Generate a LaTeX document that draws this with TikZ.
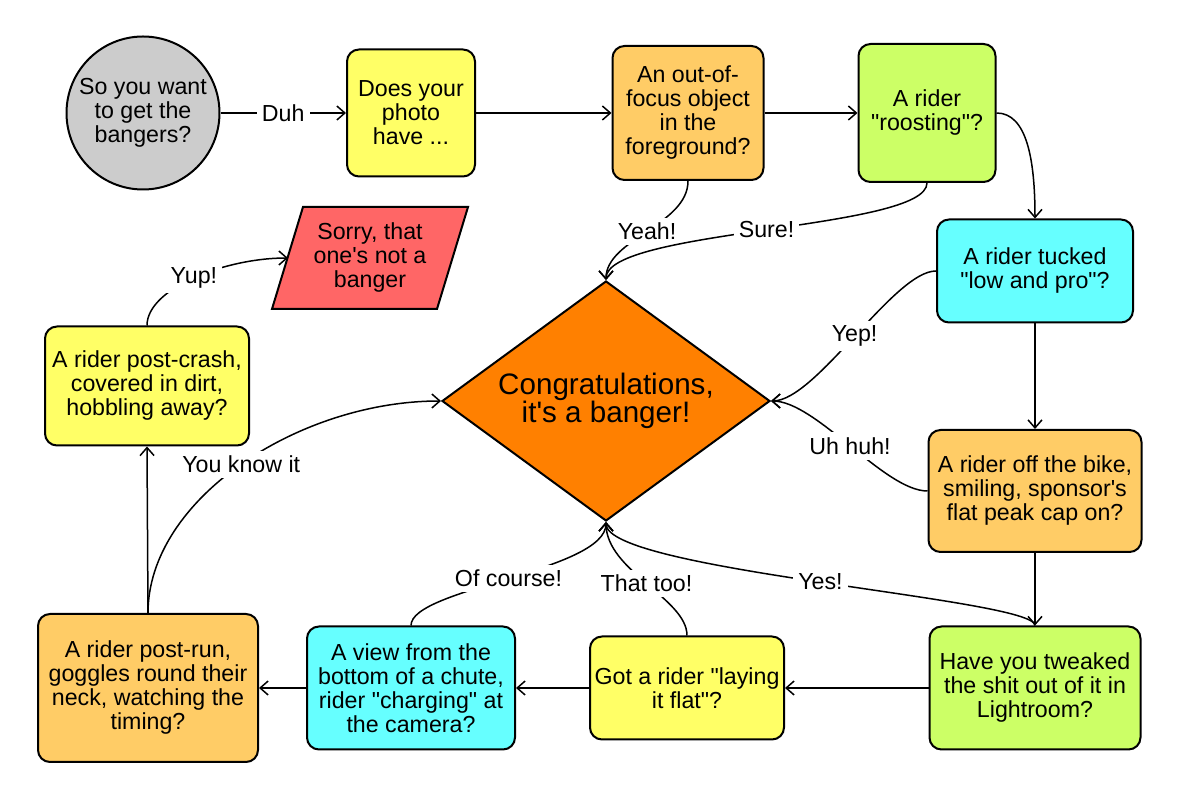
\documentclass[tikz,border=0pt]{standalone}
\usepackage{fontspec}
\setmainfont{Liberation Sans}
\usetikzlibrary{arrows.meta,shapes.geometric}
\definecolor{cgray}{HTML}{CCCCCC}
\definecolor{cyel}{HTML}{FFFF66}
\definecolor{corg}{HTML}{FFCC66}
\definecolor{cgrn}{HTML}{CCFF66}
\definecolor{ccya}{HTML}{66FFFF}
\definecolor{cred}{HTML}{FF6666}
\definecolor{cdia}{HTML}{FF8000}
\newcommand\boxfont{\fontsize{11.6}{12}\selectfont}
\newcommand\bigfont{\fontsize{14.8}{14}\selectfont}
\newcommand\dq{\XeTeXglyph\the\XeTeXcharglyph"22\relax}
\newcommand\sq{\XeTeXglyph\the\XeTeXcharglyph"27\relax}
\begin{document}
\begin{tikzpicture}[x=0.5pt,y=-0.5pt,
  qbox/.style={draw, line width=1pt, rounded corners=6pt, align=center, font=\boxfont, inner sep=0pt},
  arr/.style={-{Straight Barb[length=4pt,width=7pt]}, line width=0.75pt},
  lbl/.style={fill=white, font=\boxfont, inner sep=2.5pt},
  txt/.style={align=center, font=\boxfont, inner sep=0pt}]
\useasboundingbox (0,0) rectangle (1179,801);
% nodes
\node[draw, circle, fill=cgray, minimum size=76.5pt, inner sep=0pt, line width=1pt, align=center, font=\boxfont] (start) at (143,113) {So you want\\to get the\\bangers?};
\node[qbox, fill=cyel, minimum width=64pt, minimum height=63.5pt] (b2) at (411,113) {Does your\\photo\\have ...};
\node[qbox, fill=corg, minimum width=75.5pt, minimum height=67pt] (b3) at (688,113) {An out-of-\\focus object\\in the\\foreground?};
\node[qbox, fill=cgrn, minimum width=68.5pt, minimum height=69pt] (b4) at (927,113) {A rider\\\dq roosting\dq?};
\node[qbox, fill=ccya, minimum width=98pt, minimum height=51.5pt] (b5) at (1035,271) {A rider tucked\\\dq low and pro\dq?};
\node[qbox, fill=corg, minimum width=106.5pt, minimum height=61pt] (b6) at (1035,491) {A rider off the bike,\\smiling, sponsor\sq s\\flat peak cap on?};
\node[qbox, fill=cgrn, minimum width=105.5pt, minimum height=61.5pt] (b7) at (1035,688) {Have you tweaked\\the shit out of it in\\Lightroom?};
\node[qbox, fill=cyel, minimum width=97pt, minimum height=51.5pt] (b8) at (687,688) {Got a rider \dq laying\\it flat\dq?};
\node[qbox, fill=ccya, minimum width=104pt, minimum height=61.5pt] (b9) at (411,688) {A view from the\\bottom of a chute,\\rider \dq charging\dq{} at\\the camera?};
\node[qbox, fill=corg, minimum width=110pt, minimum height=74pt] (b10) at (148,688) {A rider post-run,\\goggles round their\\neck, watching the\\timing?};
\node[qbox, fill=cyel, minimum width=102pt, minimum height=59.5pt] (b11) at (147,386) {A rider post-crash,\\covered in dirt,\\hobbling away?};
% parallelogram
\draw[line width=1pt, fill=cred] (272,309) -- (303,207) -- (468,207) -- (437,309) -- cycle;
\node[txt] (sorry) at (370,258) {Sorry, that\\one\sq s not a\\banger};
\coordinate (sorryw) at (288,258);
% diamond
\node[draw, diamond, fill=cdia, line width=1pt, minimum width=164pt, minimum height=120pt, inner sep=0pt] (dia) at (606,401) {};
\node[align=center, font=\bigfont, inner sep=0pt] (congtext) at (dia) {Congratulations,\\it\sq s a banger!};
% connectors
\draw[arr] (start.east) -- node[lbl]{Duh} (b2.west);
\draw[arr] (b2.east) -- (b3.west);
\draw[arr] (b3.east) -- (b4.west);
\draw[arr] (b4.east) .. controls +(30,0) and +(0,-60) .. (b5.north);
\draw[arr] (b5.south) -- (b6.north);
\draw[arr] (b6.south) -- (b7.north);
\draw[arr] (b7.west) -- (b8.east);
\draw[arr] (b8.west) -- (b9.east);
\draw[arr] (b9.west) -- (b10.east);
\draw[arr] (b10.north) -- (b11.south);
\draw[arr] (b11.north) .. controls +(0,-37) and +(-63,0) .. node[lbl]{Yup!} (sorryw);
\draw[arr] (b3.south) .. controls +(0,44) and +(0,-41) .. node[lbl]{Yeah!} (dia.north);
\draw[arr] (b4.south) .. controls +(0,47) and +(0,-51) .. node[lbl]{Sure!} (dia.north);
\draw[arr] (b5.west) .. controls +(-42,0) and +(45,0) .. node[lbl]{Yep!} (dia.east);
\draw[arr] (b6.west) .. controls +(-43,0) and +(45,0) .. node[lbl]{Uh huh!} (dia.east);
\draw[arr] (b7.north) .. controls +(0,-27) and +(0,49) .. node[lbl]{Yes!} (dia.south);
\draw[arr] (b8.north) .. controls +(0,-37) and +(0,49) .. node[lbl]{That too!} (dia.south);
\draw[arr] (b9.north) .. controls +(0,-37) and +(0,49) .. node[lbl]{Of course!} (dia.south);
\draw[arr] (b10.north) .. controls +(0,-114) and +(-142,0) .. node[lbl]{You know it} (dia.west);
\end{tikzpicture}
\end{document}
